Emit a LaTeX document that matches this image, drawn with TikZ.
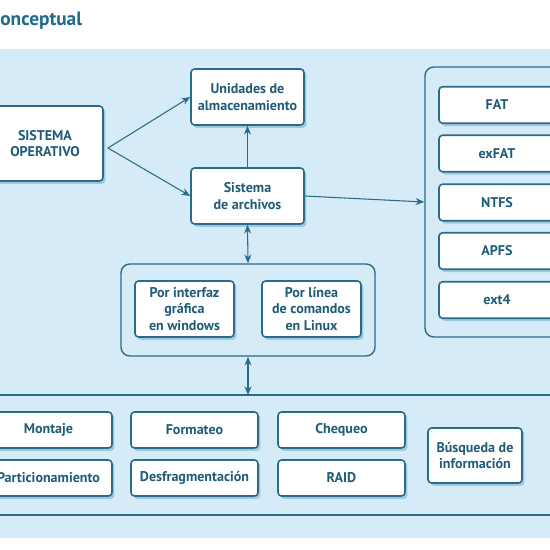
\documentclass[tikz,border=0pt]{standalone}
\usepackage{fontspec}
\setmainfont{PT Sans}
\usetikzlibrary{arrows.meta,shadows}
\definecolor{fondo}{HTML}{D5EBF8}
\definecolor{borde}{HTML}{2A6B88}
\definecolor{texto}{HTML}{1F5C78}
\definecolor{titulo}{HTML}{1E6A8C}
\definecolor{sombra}{HTML}{6BA6C8}

\begin{document}
\begin{tikzpicture}[x=0.02cm, y=-0.02cm, line cap=round, line join=round]
  \tikzset{
    caja/.style={draw=borde, line width=0.9pt, fill=white, rounded corners=2pt, text=texto,
      font=\fontsize{8}{9.5}\selectfont\bfseries, align=center, inner sep=0pt,
      drop shadow={shadow xshift=1.4pt, shadow yshift=-1.6pt, fill=sombra, opacity=0.5}},
    fs/.style={caja, minimum width=2.32cm, minimum height=0.73cm},
    op/.style={caja, minimum width=2.54cm, minimum height=0.72cm},
    grupo/.style={draw=borde, line width=0.8pt, rounded corners=5pt, fill=fondo, inner sep=0pt},
    flecha/.style={draw=borde, line width=0.6pt, -{Stealth[length=5pt, width=4pt]}},
    doble/.style={draw=borde, line width=0.6pt, {Stealth[length=5pt, width=4pt]}-{Stealth[length=5pt, width=4pt]}}
  }

  \useasboundingbox (0,0) rectangle (550,550);
  % fondo celeste
  \fill[fondo] (0,49) rectangle (550,538);

  % titulo (cortado)
  \node[anchor=base west, inner sep=0pt, text=titulo, font=\fontsize{11}{13}\selectfont\bfseries] (tit) at (0,26) {onceptual};

  % parte superior
  \node[caja, minimum width=2.32cm, minimum height=1.5cm] (so) at (45,143.5) {SISTEMA\\OPERATIVO};
  \node[caja, minimum width=2.26cm, minimum height=1.12cm] (uni) at (247.5,97) {Unidades de\\almacenamiento};
  \node[caja, minimum width=2.26cm, minimum height=1.12cm] (sis) at (247.5,196) {Sistema\\de archivos};
  \coordinate (bif) at (108,148);

  % sistemas de archivos
  \node[grupo, minimum width=2.9cm, minimum height=5.4cm] (tipos) at (497.5,202) {};
  \node[fs] (fat) at (497,105) {FAT};
  \node[fs] (exfat) at (497,153.5) {exFAT};
  \node[fs] (ntfs) at (497,202.5) {NTFS};
  \node[fs] (apfs) at (497,251) {APFS};
  \node[fs] (ext) at (497,300) {ext4};

  % formas de acceso
  \node[grupo, minimum width=5.08cm, minimum height=1.84cm] (acceso) at (248,310) {};
  \node[caja, minimum width=1.98cm, minimum height=1.12cm] (gui) at (184.5,309) {Por interfaz\\gráfica\\en windows};
  \node[caja, minimum width=1.98cm, minimum height=1.12cm] (cli) at (311.5,309) {Por línea\\de comandos\\en Linux};

  % banda de operaciones
  \draw[borde, line width=0.8pt] (-5,395) -- (555,395) (-5,515) -- (555,515);
  \coordinate (banda) at (248,395);
  \node[op] (mon) at (48.5,430) {Montaje};
  \node[op] (par) at (48.5,478) {Particionamiento};
  \node[op] (for) at (194.5,430) {Formateo};
  \node[op] (des) at (194.5,478) {Desfragmentación};
  \node[op] (che) at (341.5,430) {Chequeo};
  \node[op] (raid) at (341.5,478) {RAID};
  \node[caja, minimum width=1.88cm, minimum height=1.1cm] (bus) at (475,455.5) {Búsqueda de\\información};

  % conectores
  \draw[flecha] (bif) -- (uni.west);
  \draw[flecha] (bif) -- (sis.west);
  \draw[flecha] (sis.north) -- (uni.south);
  \draw[flecha] (sis.east) -- (tipos.west);
  \draw[doble] (sis.south) -- (acceso.north);
  \draw[doble] (acceso.south) -- (banda);
\end{tikzpicture}
\end{document}
